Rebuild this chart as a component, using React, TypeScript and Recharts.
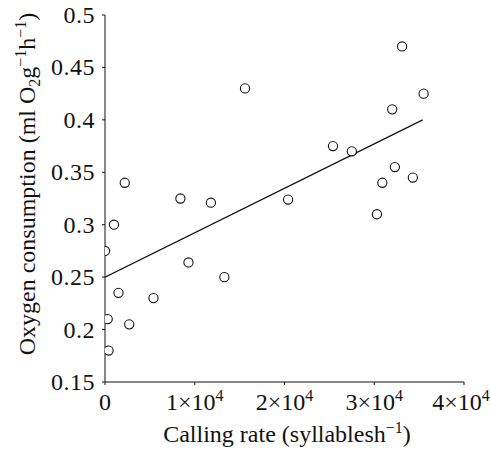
import React from 'react';
import { ScatterChart, Scatter, XAxis, YAxis } from 'recharts';

const callingRate = [0, 300, 400, 1000, 1500, 2200, 2700, 5400, 8400, 9300, 11800, 13300, 15600, 20400, 25400, 27500, 30300, 30900, 32000, 32300, 33100, 34300, 35500];
const oxygen = [0.275, 0.21, 0.18, 0.3, 0.235, 0.34, 0.205, 0.23, 0.325, 0.264, 0.321, 0.25, 0.43, 0.324, 0.375, 0.37, 0.31, 0.34, 0.41, 0.355, 0.47, 0.345, 0.425];
const fitX = [0, 35400];
const fitY = [0.25, 0.4];
const xTicks = [0, 10000, 20000, 30000, 40000];
const yTicks = [0.15, 0.2, 0.25, 0.3, 0.35, 0.4, 0.45, 0.5];
const yTickLabels = ['0.15', '0.2', '0.25', '0.3', '0.35', '0.4', '0.45', '0.5'];

const points = callingRate.map((x, i) => ({ x, y: oxygen[i] }));
const fit = fitX.map((x, i) => ({ x, y: fitY[i] }));

const FONT = "'Liberation Serif', 'DejaVu Serif', serif";
const txt: React.CSSProperties = { fontFamily: FONT, fontSize: 24 };
const yTickTxt: React.CSSProperties = { fontFamily: FONT, fontSize: 24, letterSpacing: 0.5 };
const xTickTxt: React.CSSProperties = { fontFamily: FONT, fontSize: 24 };
const sup: React.CSSProperties = { fontSize: 16 };

const XTick = (props: any) => {
  const { x, y, payload } = props;
  const v = payload.value;
  if (v === 0) {
    return (
      <text x={x} y={y + 23} textAnchor="middle" style={xTickTxt} fill="#111">0</text>
    );
  }
  const m = Math.round(v / 10000);
  const shift = v === xTicks[xTicks.length - 1] ? -3 : 0;
  return (
    <text x={x + shift} y={y + 23} textAnchor="middle" style={xTickTxt} fill="#111">
      {m}×10<tspan style={sup} dy={-9}>4</tspan>
    </text>
  );
};

const YTick = (props: any) => {
  const { x, y, payload } = props;
  const idx = yTicks.indexOf(payload.value);
  const label = idx >= 0 ? yTickLabels[idx] : String(payload.value);
  return (
    <text x={x - 5} y={y + 8} textAnchor="end" style={yTickTxt} fill="#111">{label}</text>
  );
};

const Ring = (props: any) => {
  const { cx, cy } = props;
  return <circle cx={cx} cy={cy} r={4.6} fill="white" stroke="#111" strokeWidth={1.1} />;
};

const NoShape = () => null;

export default function App() {
  return (
    <div style={{ position: 'absolute', left: 0, top: 0, background: 'white' }}>
      <ScatterChart width={491} height={457} margin={{ top: 15, right: 27, bottom: 45, left: 32 }}>
        <XAxis
          type="number"
          dataKey="x"
          domain={[0, 40000]}
          ticks={xTicks}
          tick={<XTick />}
          tickSize={3}
          height={30}
          stroke="#111"
          interval={0}
          allowDataOverflow
        />
        <YAxis
          type="number"
          dataKey="y"
          domain={[0.15, 0.5]}
          ticks={yTicks}
          tick={<YTick />}
          tickSize={3}
          width={73}
          stroke="#111"
          interval={0}
          allowDataOverflow
        />
        <Scatter data={fit} line={{ stroke: '#111', strokeWidth: 1.2 }} shape={<NoShape />} isAnimationActive={false} />
        <Scatter data={points} shape={<Ring />} isAnimationActive={false} />
        <text x={287} y={442} textAnchor="middle" style={txt} fill="#111">
          Calling rate (syllablesh<tspan style={sup} dy={-9}>−1</tspan><tspan dy={9}>)</tspan>
        </text>
        <text x={35} y={184} textAnchor="middle" style={txt} fill="#111" transform="rotate(-90 35 184)">
          Oxygen consumption (ml O<tspan style={sup} dy={5}>2</tspan><tspan dy={-5}>g</tspan><tspan style={sup} dy={-9}>−1</tspan><tspan dy={9}>h</tspan><tspan style={sup} dy={-9}>−1</tspan><tspan dy={9}>)</tspan>
        </text>
      </ScatterChart>
    </div>
  );
}
